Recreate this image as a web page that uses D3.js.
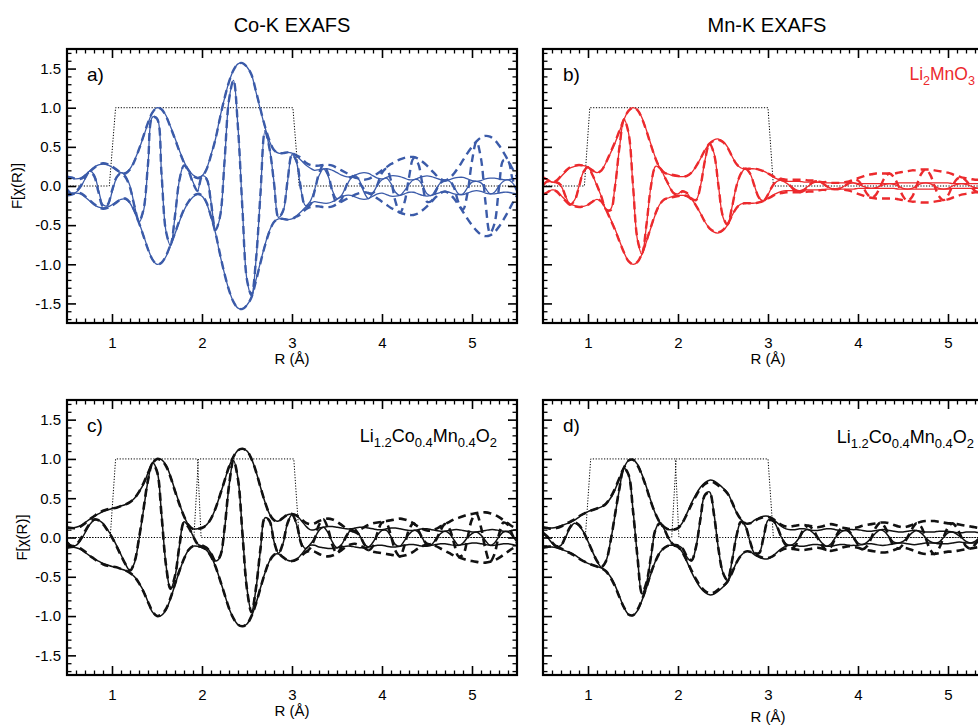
<!DOCTYPE html>
<html><head><meta charset="utf-8">
<script src="https://cdn.jsdelivr.net/npm/d3@7"></script>
<style>body{margin:0;background:#fff}svg text{font-family:"Liberation Sans",Arial,Helvetica,sans-serif;fill:#000}</style>
</head><body><svg id="chart" width="978" height="725"></svg>
<script>
// ---------- DATA ----------
const rGrid = [
0.50,0.55,0.60,0.65,0.70,0.75,0.80,0.85,0.90,0.95,
1.00,1.05,1.10,1.15,1.20,1.25,1.30,1.35,1.40,1.45,
1.50,1.55,1.60,1.65,1.70,1.75,1.80,1.85,1.90,1.95,
2.00,2.05,2.10,2.15,2.20,2.25,2.30,2.35,2.40,2.45,
2.50,2.55,2.60,2.65,2.70,2.75,2.80,2.85,2.90,2.95,
3.00,3.05,3.10,3.15,3.20,3.25,3.30,3.35,3.40,3.45,
3.50,3.55,3.60,3.65,3.70,3.75,3.80,3.85,3.90,3.95,
4.00,4.05,4.10,4.15,4.20,4.25,4.30,4.35,4.40,4.45,
4.50,4.55,4.60,4.65,4.70,4.75,4.80,4.85,4.90,4.95,
5.00,5.05,5.10,5.15,5.20,5.25,5.30,5.35,5.40,5.45,
5.50];

// a) Co-K (blue)
const magA = [
0.10,0.10,0.09,0.10,0.14,0.19,0.24,0.27,0.28,0.27,
0.24,0.20,0.17,0.17,0.22,0.33,0.47,0.63,0.80,0.94,
1.00,0.98,0.90,0.76,0.61,0.45,0.31,0.21,0.14,0.11,
0.13,0.22,0.40,0.60,0.88,1.12,1.33,1.48,1.56,1.57,
1.52,1.42,1.20,0.97,0.75,0.57,0.46,0.42,0.42,0.43,
0.42,0.38,0.33,0.27,0.23,0.20,0.21,0.22,0.22,0.20,
0.17,0.14,0.12,0.12,0.14,0.16,0.17,0.16,0.13,0.10,
0.09,0.11,0.13,0.13,0.12,0.10,0.08,0.08,0.10,0.12,
0.13,0.12,0.10,0.08,0.07,0.08,0.10,0.11,0.11,0.09,
0.07,0.06,0.07,0.09,0.10,0.10,0.09,0.08,0.08,0.09,
0.10];
const oscA = [
-0.03,-0.09,-0.08,-0.02,0.09,0.19,0.15,-0.05,-0.24,-0.25,
-0.08,0.10,0.17,0.13,0.00,-0.25,-0.46,-0.32,0.27,0.88,
0.87,0.17,-0.58,-0.76,-0.39,0.08,0.27,0.20,0.05,-0.06,
0.13,0.10,-0.20,-0.56,-0.40,0.30,1.10,1.35,0.75,-0.30,
-1.20,-1.40,-0.95,-0.10,0.70,0.48,0.05,-0.40,-0.33,0.05,
0.40,0.30,-0.05,-0.25,-0.20,-0.05,0.13,0.22,0.13,-0.06,
-0.16,-0.12,-0.01,0.09,0.14,0.07,-0.08,-0.16,-0.09,0.01,
0.08,0.10,0.03,-0.08,-0.12,-0.06,0.02,0.08,0.08,0.01,
-0.10,-0.12,-0.04,0.04,0.07,0.06,-0.01,-0.10,-0.10,-0.02,
0.05,0.06,0.04,-0.03,-0.10,-0.08,0.00,0.06,0.08,0.04,
-0.05];
const magAFit = [
0.12,0.11,0.09,0.09,0.13,0.18,0.23,0.27,0.29,0.28,
0.25,0.21,0.17,0.16,0.21,0.32,0.47,0.64,0.81,0.94,
1.00,0.98,0.89,0.75,0.60,0.44,0.30,0.20,0.13,0.10,
0.12,0.21,0.39,0.60,0.87,1.12,1.33,1.48,1.56,1.57,
1.52,1.42,1.21,0.98,0.76,0.58,0.46,0.42,0.42,0.43,
0.42,0.39,0.36,0.30,0.27,0.26,0.26,0.27,0.27,0.26,
0.23,0.20,0.17,0.14,0.11,0.09,0.08,0.09,0.12,0.16,
0.20,0.24,0.28,0.31,0.34,0.36,0.37,0.37,0.35,0.31,
0.26,0.20,0.14,0.09,0.07,0.10,0.16,0.24,0.33,0.42,
0.50,0.57,0.62,0.64,0.63,0.59,0.52,0.43,0.33,0.22,
0.12];
const oscAFit = [
-0.05,-0.10,-0.07,0.00,0.10,0.18,0.13,-0.08,-0.26,-0.24,
-0.06,0.11,0.16,0.11,-0.02,-0.26,-0.45,-0.30,0.28,0.88,
0.86,0.16,-0.58,-0.75,-0.38,0.08,0.26,0.19,0.04,-0.06,
0.12,0.09,-0.21,-0.56,-0.39,0.31,1.10,1.35,0.74,-0.31,
-1.20,-1.39,-0.94,-0.09,0.70,0.48,0.04,-0.40,-0.32,0.06,
0.40,0.32,-0.04,-0.26,-0.24,-0.07,0.16,0.27,0.16,-0.08,
-0.22,-0.17,-0.01,0.11,0.11,0.04,-0.04,-0.09,-0.09,0.02,
0.17,0.22,0.07,-0.20,-0.34,-0.21,0.11,0.35,0.29,0.02,
-0.20,-0.19,-0.06,0.04,0.07,0.07,-0.02,-0.21,-0.30,-0.09,
0.32,0.57,0.35,-0.21,-0.60,-0.48,-0.02,0.33,0.32,0.09,
-0.06];

// b) Mn-K, Li2MnO3 (red)
const magB = [
0.10,0.08,0.05,0.06,0.12,0.18,0.23,0.25,0.26,0.26,
0.24,0.20,0.17,0.20,0.30,0.42,0.55,0.70,0.85,0.96,
1.00,0.97,0.87,0.71,0.53,0.36,0.23,0.17,0.15,0.13,
0.12,0.12,0.13,0.17,0.25,0.35,0.46,0.54,0.59,0.60,
0.57,0.50,0.38,0.28,0.23,0.22,0.22,0.22,0.21,0.19,
0.16,0.12,0.09,0.07,0.06,0.06,0.06,0.06,0.05,0.05,
0.05,0.05,0.05,0.04,0.04,0.04,0.04,0.04,0.04,0.04,
0.03,0.03,0.03,0.03,0.03,0.03,0.03,0.03,0.03,0.04,
0.04,0.04,0.04,0.04,0.04,0.04,0.04,0.04,0.04,0.04,
0.04,0.03,0.03,0.03,0.03,0.03,0.03,0.03,0.03,0.03,
0.03];
const oscB = [
0.00,0.06,0.05,0.04,0.00,-0.13,-0.23,-0.18,0.00,0.18,
0.24,0.14,0.00,-0.14,-0.30,-0.30,0.00,0.49,0.85,0.68,
0.00,-0.69,-0.87,-0.50,0.00,0.25,0.23,0.12,0.00,-0.09,
-0.10,-0.06,-0.09,-0.17,-0.18,0.00,0.33,0.54,0.42,0.00,
-0.40,-0.50,-0.27,0.00,0.16,0.22,0.16,0.00,-0.15,-0.19,
-0.11,0.00,0.06,0.07,0.04,0.00,-0.04,-0.06,-0.04,0.00,
0.04,0.05,0.04,0.00,-0.03,-0.04,-0.03,0.00,0.03,0.04,
0.02,0.00,-0.02,-0.03,-0.02,0.00,0.02,0.03,0.02,0.00,
-0.03,-0.04,-0.03,0.00,0.03,0.04,0.03,0.00,-0.03,-0.04,
-0.03,0.00,0.02,0.03,0.02,0.00,-0.02,-0.03,-0.02,0.00,
0.02];
const magBFit = [
0.11,0.08,0.05,0.07,0.13,0.19,0.24,0.26,0.27,0.26,
0.24,0.20,0.17,0.20,0.30,0.43,0.56,0.71,0.85,0.96,
1.00,0.97,0.86,0.70,0.52,0.35,0.23,0.17,0.15,0.14,
0.13,0.12,0.13,0.17,0.25,0.35,0.46,0.54,0.58,0.59,
0.56,0.49,0.38,0.28,0.23,0.22,0.22,0.22,0.21,0.19,
0.16,0.13,0.10,0.09,0.08,0.08,0.08,0.08,0.08,0.07,
0.07,0.06,0.05,0.05,0.04,0.04,0.04,0.05,0.06,0.08,
0.10,0.12,0.14,0.15,0.16,0.16,0.16,0.16,0.16,0.17,
0.18,0.19,0.20,0.20,0.21,0.21,0.21,0.20,0.19,0.18,
0.17,0.15,0.13,0.11,0.10,0.09,0.08,0.08,0.08,0.08,
0.08];
const oscBFit = [
0.01,0.06,0.05,0.05,0.01,-0.13,-0.24,-0.19,-0.01,0.18,
0.24,0.14,0.01,-0.14,-0.30,-0.31,-0.01,0.50,0.85,0.68,
0.01,-0.68,-0.86,-0.49,0.00,0.24,0.23,0.12,0.01,-0.09,
-0.11,-0.07,-0.09,-0.16,-0.18,0.00,0.33,0.54,0.41,0.00,
-0.39,-0.49,-0.27,0.00,0.16,0.22,0.16,0.00,-0.15,-0.19,
-0.11,0.00,0.07,0.09,0.06,0.00,-0.06,-0.08,-0.06,0.00,
0.05,0.06,0.04,0.00,-0.03,-0.04,-0.03,0.00,0.04,0.08,
0.07,0.00,-0.10,-0.15,-0.11,0.00,0.11,0.16,0.11,0.00,
-0.13,-0.19,-0.14,0.00,0.15,0.21,0.15,0.00,-0.13,-0.18,
-0.12,0.00,0.09,0.11,0.07,0.00,-0.06,-0.08,-0.06,0.00,
0.06];

// c) Co-K, Li1.2Co0.4Mn0.4O2 (black)
const magC = [
0.12,0.12,0.13,0.15,0.19,0.23,0.27,0.30,0.33,0.35,
0.37,0.38,0.40,0.42,0.45,0.50,0.58,0.68,0.82,0.95,
1.00,0.99,0.92,0.78,0.60,0.43,0.27,0.16,0.11,0.11,
0.13,0.16,0.24,0.37,0.54,0.72,0.90,1.03,1.11,1.13,
1.10,1.00,0.84,0.64,0.45,0.30,0.22,0.21,0.25,0.29,
0.30,0.28,0.22,0.15,0.10,0.10,0.12,0.13,0.14,0.14,
0.13,0.12,0.11,0.11,0.12,0.13,0.13,0.12,0.11,0.10,
0.10,0.11,0.12,0.12,0.11,0.10,0.09,0.09,0.10,0.11,
0.11,0.10,0.09,0.08,0.08,0.09,0.10,0.10,0.09,0.08,
0.07,0.07,0.08,0.09,0.10,0.10,0.09,0.08,0.08,0.09,
0.10];
const oscC = [
-0.05,-0.10,-0.10,-0.04,0.06,0.16,0.22,0.22,0.18,0.10,
0.01,-0.10,-0.22,-0.34,-0.42,-0.32,-0.02,0.35,0.72,0.95,
0.85,0.30,-0.35,-0.66,-0.50,-0.10,0.20,0.14,0.02,-0.08,
-0.11,-0.13,-0.20,-0.30,-0.25,0.10,0.65,0.98,0.75,0.05,
-0.65,-0.95,-0.65,-0.15,0.25,0.22,-0.05,-0.20,-0.08,0.18,
0.29,0.17,-0.06,-0.14,-0.09,-0.01,0.09,0.13,0.06,-0.06,
-0.13,-0.09,0.01,0.09,0.11,0.03,-0.08,-0.12,-0.06,0.03,
0.09,0.09,0.01,-0.09,-0.11,-0.04,0.04,0.09,0.07,-0.01,
-0.10,-0.09,-0.02,0.05,0.08,0.05,-0.03,-0.10,-0.07,0.00,
0.05,0.07,0.03,-0.04,-0.10,-0.07,0.01,0.07,0.07,0.02,
-0.06];
const magCFit = [
0.13,0.12,0.12,0.14,0.18,0.23,0.27,0.31,0.34,0.36,
0.37,0.38,0.40,0.42,0.45,0.50,0.58,0.69,0.82,0.94,
1.00,0.98,0.91,0.77,0.59,0.42,0.27,0.16,0.11,0.11,
0.12,0.16,0.24,0.37,0.54,0.72,0.90,1.03,1.11,1.13,
1.10,1.00,0.84,0.64,0.45,0.30,0.22,0.21,0.25,0.29,
0.30,0.28,0.24,0.19,0.17,0.18,0.21,0.23,0.24,0.23,
0.20,0.16,0.12,0.09,0.08,0.10,0.13,0.16,0.18,0.19,
0.20,0.21,0.22,0.23,0.24,0.23,0.21,0.18,0.14,0.11,
0.09,0.09,0.11,0.14,0.17,0.20,0.23,0.25,0.27,0.29,
0.30,0.31,0.32,0.32,0.31,0.29,0.26,0.22,0.18,0.14,
0.11];
const oscCFit = [
-0.07,-0.11,-0.09,-0.02,0.08,0.17,0.23,0.22,0.17,0.09,
0.00,-0.11,-0.23,-0.34,-0.42,-0.31,-0.01,0.36,0.73,0.94,
0.84,0.29,-0.35,-0.65,-0.49,-0.10,0.19,0.13,0.02,-0.08,
-0.10,-0.13,-0.20,-0.30,-0.24,0.11,0.66,0.98,0.74,0.04,
-0.66,-0.95,-0.64,-0.14,0.25,0.21,-0.05,-0.20,-0.07,0.18,
0.29,0.18,-0.07,-0.18,-0.14,-0.02,0.16,0.23,0.11,-0.10,
-0.20,-0.12,0.01,0.08,0.07,0.03,-0.08,-0.16,-0.11,0.06,
0.19,0.18,0.02,-0.17,-0.24,-0.10,0.10,0.18,0.10,-0.01,
-0.08,-0.08,-0.03,0.09,0.17,0.11,-0.07,-0.24,-0.22,-0.01,
0.23,0.30,0.13,-0.15,-0.31,-0.21,0.04,0.19,0.16,0.03,
-0.07];

// d) Mn-K, Li1.2Co0.4Mn0.4O2 (black)
const magD = [
0.12,0.12,0.12,0.13,0.15,0.17,0.19,0.22,0.26,0.30,
0.33,0.35,0.37,0.39,0.43,0.50,0.61,0.75,0.89,0.98,
0.99,0.93,0.80,0.64,0.46,0.30,0.19,0.13,0.10,0.10,
0.12,0.19,0.31,0.44,0.55,0.64,0.70,0.73,0.72,0.68,
0.63,0.57,0.45,0.32,0.23,0.18,0.18,0.22,0.25,0.27,
0.27,0.24,0.19,0.14,0.11,0.10,0.10,0.11,0.11,0.10,
0.09,0.09,0.10,0.11,0.11,0.10,0.09,0.09,0.10,0.10,
0.10,0.09,0.08,0.08,0.09,0.10,0.10,0.09,0.08,0.07,
0.07,0.08,0.09,0.09,0.08,0.07,0.07,0.07,0.08,0.08,
0.08,0.07,0.06,0.06,0.07,0.07,0.07,0.06,0.06,0.06,
0.06];
const oscD = [
0.05,0.00,-0.07,-0.12,-0.10,0.00,0.12,0.18,0.15,0.07,
-0.05,-0.18,-0.30,-0.38,-0.30,-0.05,0.28,0.62,0.88,0.80,
0.35,-0.25,-0.72,-0.58,-0.25,0.10,0.19,0.10,-0.02,-0.09,
-0.10,-0.14,-0.25,-0.30,-0.12,0.25,0.55,0.58,0.30,-0.15,
-0.45,-0.55,-0.30,0.02,0.20,0.14,-0.05,-0.20,-0.20,0.00,
0.22,0.23,0.13,0.00,-0.08,-0.10,-0.07,0.00,0.08,0.10,
0.06,0.00,-0.07,-0.11,-0.08,0.00,0.06,0.09,0.07,0.00,
-0.07,-0.09,-0.06,0.00,0.06,0.10,0.07,0.00,-0.06,-0.07,
-0.05,0.00,0.06,0.09,0.06,0.00,-0.05,-0.07,-0.06,0.00,
0.06,0.07,0.04,0.00,-0.05,-0.07,-0.05,0.00,0.04,0.06,
0.04];
const magDFit = [
0.13,0.12,0.11,0.12,0.14,0.17,0.20,0.23,0.27,0.30,
0.33,0.35,0.37,0.39,0.43,0.51,0.62,0.76,0.89,0.98,
0.99,0.92,0.79,0.63,0.45,0.30,0.19,0.13,0.10,0.10,
0.12,0.19,0.30,0.42,0.53,0.62,0.68,0.71,0.70,0.66,
0.62,0.56,0.45,0.32,0.23,0.18,0.18,0.21,0.24,0.26,
0.26,0.24,0.20,0.16,0.14,0.14,0.15,0.16,0.16,0.15,
0.14,0.13,0.14,0.16,0.17,0.16,0.14,0.12,0.11,0.12,
0.13,0.15,0.16,0.17,0.18,0.19,0.19,0.18,0.16,0.14,
0.13,0.14,0.16,0.18,0.20,0.21,0.21,0.21,0.20,0.19,
0.18,0.18,0.17,0.16,0.15,0.14,0.13,0.12,0.11,0.10,
0.10];
const oscDFit = [
0.06,0.01,-0.06,-0.11,-0.10,0.01,0.13,0.19,0.16,0.07,
-0.05,-0.18,-0.30,-0.37,-0.30,-0.05,0.29,0.63,0.88,0.80,
0.34,-0.25,-0.71,-0.57,-0.24,0.10,0.18,0.10,-0.02,-0.09,
-0.10,-0.14,-0.24,-0.29,-0.12,0.24,0.54,0.57,0.29,-0.15,
-0.45,-0.54,-0.30,0.02,0.20,0.14,-0.05,-0.19,-0.20,0.00,
0.21,0.22,0.14,0.00,-0.10,-0.14,-0.11,0.00,0.11,0.15,
0.10,0.00,-0.10,-0.16,-0.12,0.00,0.10,0.12,0.08,0.00,
-0.09,-0.15,-0.11,0.00,0.13,0.19,0.13,0.00,-0.11,-0.14,
-0.09,0.00,0.11,0.18,0.14,0.00,-0.15,-0.21,-0.14,0.00,
0.13,0.18,0.12,0.00,-0.11,-0.14,-0.09,0.00,0.08,0.10,
0.07];

// FT windows (R breakpoints and window levels)
const windowLevels = [0, 0, 1, 1, 0, 0];
const winRA  = [0.5, 0.97, 1.04, 3.01, 3.08, 5.5];
const winRB  = [0.5, 0.96, 1.02, 3.00, 3.06, 5.5];
const winRC1 = [0.5, 0.98, 1.04, 1.95, 1.99, 5.5];
const winRC2 = [0.5, 1.91, 1.96, 3.02, 3.08, 5.5];
const winRD1 = [0.5, 0.97, 1.03, 1.97, 2.01, 5.5];
const winRD2 = [0.5, 1.93, 1.98, 3.00, 3.06, 5.5];

// ticks and texts
const xMajorTicks = [1, 2, 3, 4, 5];
const xTickLabels = ["1", "2", "3", "4", "5"];
const yMajorTicks = [-1.5, -1.0, -0.5, 0.0, 0.5, 1.0, 1.5];
const yTickLabels = ["-1.5", "-1.0", "-0.5", "0.0", "0.5", "1.0", "1.5"];
const columnTitles = ["Co-K EXAFS", "Mn-K EXAFS"];
const panelTags = ["a)", "b)", "c)", "d)"];

// ---------- DRAW ----------
const svg = d3.select("#chart");
const BLUE = "#3b5ba9", RED = "#ec2a2d", BLACK = "#111";

const panels = [
  {tag: panelTags[0], x0: 67,  y0: 49,  h: 274, color: BLUE, mag: magA, osc: oscA, magFit: magAFit, oscFit: oscAFit, wins: [winRA], yLabels: true,  solidW: 1.3, dashW: 2.4},
  {tag: panelTags[1], x0: 543, y0: 49,  h: 274, color: RED,  mag: magB, osc: oscB, magFit: magBFit, oscFit: oscBFit, wins: [winRB], yLabels: false, solidW: 1.3, dashW: 2.4},
  {tag: panelTags[2], x0: 67,  y0: 400, h: 275, color: BLACK,mag: magC, osc: oscC, magFit: magCFit, oscFit: oscCFit, wins: [winRC1, winRC2], yLabels: true,  solidW: 1.5, dashW: 2.6},
  {tag: panelTags[3], x0: 543, y0: 400, h: 275, color: BLACK,mag: magD, osc: oscD, magFit: magDFit, oscFit: oscDFit, wins: [winRD1, winRD2], yLabels: false, solidW: 1.5, dashW: 2.6}
];
const PW = 450;
const xMinor = d3.range(0.6, 5.5, 0.1).map(v => +v.toFixed(1)).filter(v => Math.abs(v - Math.round(v)) > 1e-6);
const yMinor = d3.range(-1.7, 1.71, 0.1).map(v => +v.toFixed(1)).filter(v => Math.abs(v * 2 - Math.round(v * 2)) > 1e-6);

const defs = svg.append("defs");

panels.forEach((p, idx) => {
  const x = d3.scaleLinear().domain([0.5, 5.5]).range([p.x0, p.x0 + PW]);
  const y = d3.scaleLinear().domain([-1.75, 1.75]).range([p.y0 + p.h, p.y0]);
  const g = svg.append("g");

  defs.append("clipPath").attr("id", "clip" + idx).append("rect")
    .attr("x", p.x0).attr("y", p.y0).attr("width", PW).attr("height", p.h);
  const plot = g.append("g").attr("clip-path", `url(#clip${idx})`);

  // windows
  p.wins.forEach(wr => {
    plot.append("path")
      .attr("d", d3.line().x((d, i) => x(wr[i])).y(d => y(d))(windowLevels))
      .attr("fill", "none").attr("stroke", "#000").attr("stroke-width", 1)
      .attr("stroke-dasharray", "1.2,1.6");
  });

  const lineOf = sign => d3.line()
    .x((d, i) => x(rGrid[i])).y(d => y(sign * d))
    .curve(d3.curveCatmullRom.alpha(0.5));

  // data (solid)
  [[p.mag, 1], [p.mag, -1], [p.osc, 1]].forEach(([arr, s]) => {
    plot.append("path").attr("d", lineOf(s)(arr))
      .attr("fill", "none").attr("stroke", p.color).attr("stroke-width", p.solidW)
      .attr("stroke-linejoin", "round");
  });
  // fits (dashed)
  [[p.magFit, 1], [p.magFit, -1], [p.oscFit, 1]].forEach(([arr, s]) => {
    plot.append("path").attr("d", lineOf(s)(arr))
      .attr("fill", "none").attr("stroke", p.color).attr("stroke-width", p.dashW)
      .attr("stroke-dasharray", "8,5");
  });

  // axes (inward ticks on all four sides)
  const styleAxis = (sel, w) => {
    sel.select(".domain").remove();
    sel.selectAll(".tick line").attr("stroke", "#000").attr("stroke-width", w);
    sel.selectAll(".tick text").attr("font-size", 15).attr("fill", "#000")
      .style("font-family", '"Liberation Sans", Arial, sans-serif');
  };
  const bottomY = p.y0 + p.h;
  g.append("g").attr("transform", `translate(0,${bottomY})`)
    .call(d3.axisBottom(x).tickValues(xMajorTicks).tickSize(-9).tickPadding(14)
      .tickFormat((d, i) => xTickLabels[i])).call(s => styleAxis(s, 1.6));
  g.append("g").attr("transform", `translate(0,${bottomY})`)
    .call(d3.axisBottom(x).tickValues(xMinor).tickSize(-4.5).tickFormat("")).call(s => styleAxis(s, 1.3));
  g.append("g").attr("transform", `translate(0,${p.y0})`)
    .call(d3.axisTop(x).tickValues(xMajorTicks).tickSize(-9).tickFormat("")).call(s => styleAxis(s, 1.6));
  g.append("g").attr("transform", `translate(0,${p.y0})`)
    .call(d3.axisTop(x).tickValues(xMinor).tickSize(-4.5).tickFormat("")).call(s => styleAxis(s, 1.3));
  g.append("g").attr("transform", `translate(${p.x0},0)`)
    .call(d3.axisLeft(y).tickValues(yMajorTicks).tickSize(-9).tickPadding(6)
      .tickFormat((d, i) => p.yLabels ? yTickLabels[i] : "")).call(s => styleAxis(s, 1.6));
  g.append("g").attr("transform", `translate(${p.x0},0)`)
    .call(d3.axisLeft(y).tickValues(yMinor).tickSize(-4.5).tickFormat("")).call(s => styleAxis(s, 1.3));
  g.append("g").attr("transform", `translate(${p.x0 + PW},0)`)
    .call(d3.axisRight(y).tickValues(yMajorTicks).tickSize(-9).tickFormat("")).call(s => styleAxis(s, 1.6));
  g.append("g").attr("transform", `translate(${p.x0 + PW},0)`)
    .call(d3.axisRight(y).tickValues(yMinor).tickSize(-4.5).tickFormat("")).call(s => styleAxis(s, 1.3));

  // frame
  g.append("rect").attr("x", p.x0).attr("y", p.y0).attr("width", PW).attr("height", p.h)
    .attr("fill", "none").attr("stroke", "#000").attr("stroke-width", 2.2);

  // panel tag
  g.append("text").attr("x", p.x0 + 20).attr("y", p.y0 + 32).attr("font-size", 19).text(p.tag);

  // x title
  const isD = idx === 3;
  g.append("text").attr("x", p.x0 + 225).attr("y", bottomY + (isD ? 47 : 41))
    .attr("text-anchor", "middle").attr("font-size", 15).text("R (Å)");

  // y title
  if (p.yLabels) {
    g.append("text").attr("transform", `translate(${idx === 0 ? 22 : 27},${(p.y0 + bottomY) / 2}) rotate(-90)`)
      .attr("text-anchor", "middle").attr("font-size", 15).text("F[χ(R)]");
  }
});

// column titles
svg.append("text").attr("x", 292).attr("y", 32).attr("text-anchor", "middle").attr("font-size", 20).text(columnTitles[0]);
svg.append("text").attr("x", 767).attr("y", 32).attr("text-anchor", "middle").attr("font-size", 20).text(columnTitles[1]);

// compound labels with subscripts
function formula(x, yb, parts, color, size) {
  const t = svg.append("text").attr("x", x).attr("y", yb).attr("text-anchor", "end")
    .attr("font-size", size).style("fill", color);
  let sub = false;
  parts.forEach(([s, isSub]) => {
    const dy = isSub && !sub ? 5 : (!isSub && sub ? -5 : 0);
    t.append("tspan").attr("dy", dy).attr("font-size", isSub ? size * 0.72 : size).text(s);
    sub = isSub;
  });
}
formula(975, 80, [["Li", 0], ["2", 1], ["MnO", 0], ["3", 1]], RED, 17.5);
const mixed = [["Li", 0], ["1.2", 1], ["Co", 0], ["0.4", 1], ["Mn", 0], ["0.4", 1], ["O", 0], ["2", 1]];
formula(497, 442, mixed, "#000", 18);
formula(974, 443, mixed, "#000", 18);
</script>
</body></html>
